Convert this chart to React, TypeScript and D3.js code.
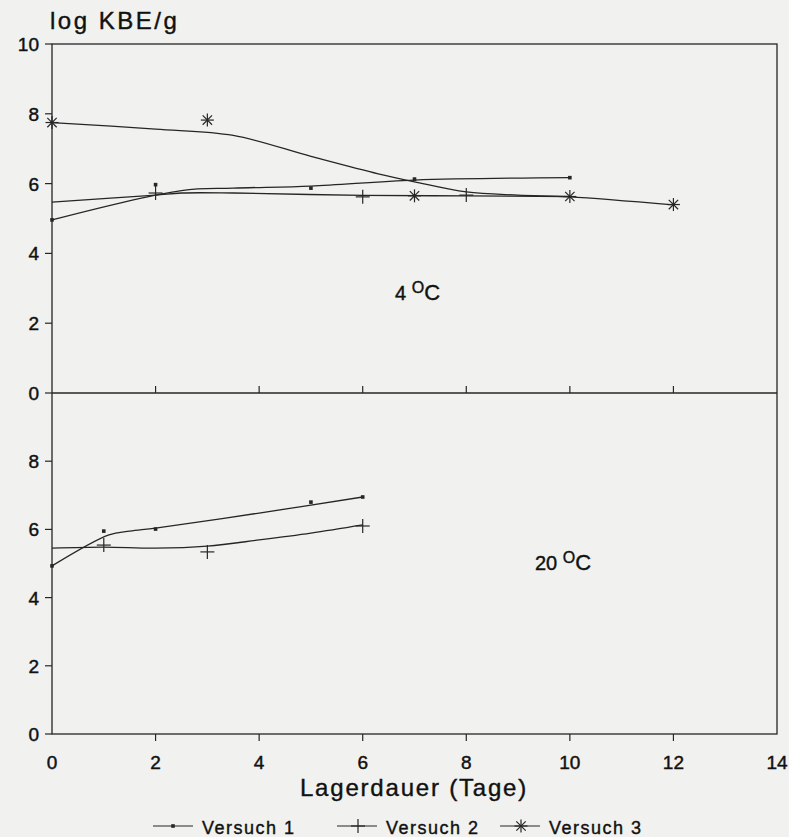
import React from "react";
import * as d3 from "d3";

// ---- data ----
const xTicks = [0, 2, 4, 6, 8, 10, 12, 14];
const yTicksTop = [0, 2, 4, 6, 8, 10];
const yTicksBottom = [0, 2, 4, 6, 8];
const seriesNames = ["Versuch 1", "Versuch 2", "Versuch 3"];

// 4 °C measured points [day, log KBE/g]
const v1Top: [number, number][] = [[0, 4.96], [2, 5.97], [5, 5.87], [7, 6.13], [10, 6.17]];
const v2Top: [number, number][] = [[2, 5.73], [6, 5.62], [8, 5.67]];
const v3Top: [number, number][] = [[0, 7.75], [3, 7.82], [7, 5.65], [10, 5.63], [12, 5.4]];
// 4 °C fitted curves as drawn
const v1TopFit: [number, number][] = [[0, 4.96], [2.5, 5.8], [3.5, 5.87], [5, 5.93], [7, 6.1], [10, 6.17]];
const v2TopFit: [number, number][] = [[0, 5.47], [2, 5.67], [2.5, 5.73], [3.5, 5.73], [6, 5.66], [8, 5.65], [10, 5.63]];
const v3TopFit: [number, number][] = [[0, 7.75], [2, 7.56], [3.5, 7.38], [5, 6.78], [6.3, 6.28], [7, 6.05], [8, 5.76], [9, 5.67], [10, 5.62], [12, 5.39]];

// 20 °C measured points
const v1Bot: [number, number][] = [[0, 4.93], [1, 5.95], [2, 6.01], [5, 6.8], [6, 6.95]];
const v2Bot: [number, number][] = [[1, 5.54], [3, 5.34], [6, 6.1]];
// 20 °C fitted curves
const v1BotFit: [number, number][] = [[0, 4.93], [1.1, 5.84], [1.5, 5.95], [2, 6.04], [4, 6.48], [6, 6.95]];
const v2BotFit: [number, number][] = [[0, 5.45], [1, 5.48], [2, 5.45], [3, 5.51], [4, 5.69], [5, 5.89], [6, 6.13]];

const INK = "#262626";
const TXT = "#111111";
const FONT = "'Liberation Sans', Arial, sans-serif";

function Dot({ x, y }: { x: number; y: number }) {
  return <rect x={x - 1.8} y={y - 1.8} width={3.6} height={3.6} fill={INK} />;
}
function Cross({ x, y }: { x: number; y: number }) {
  const s = 7;
  return (
    <g stroke={INK} strokeWidth={1.2}>
      <line x1={x - s} x2={x + s} y1={y} y2={y} />
      <line x1={x} x2={x} y1={y - s} y2={y + s} />
    </g>
  );
}
function Star({ x, y }: { x: number; y: number }) {
  const s = 6.5;
  const d = s * 0.72;
  return (
    <g stroke={INK} strokeWidth={1.2}>
      <line x1={x - s} x2={x + s} y1={y} y2={y} />
      <line x1={x} x2={x} y1={y - s} y2={y + s} />
      <line x1={x - d} x2={x + d} y1={y - d} y2={y + d} />
      <line x1={x - d} x2={x + d} y1={y + d} y2={y - d} />
    </g>
  );
}

export default function App() {
  const left = 52, right = 777, top = 44, mid = 393, bottom = 734;
  const x = d3.scaleLinear().domain([0, 14]).range([left, right]);
  const yT = d3.scaleLinear().domain([0, 10]).range([mid, top]);
  const yB = d3.scaleLinear().domain([0, 10]).range([bottom, mid]);

  const lineT = d3.line<[number, number]>().x((d) => x(d[0])).y((d) => yT(d[1])).curve(d3.curveCatmullRom.alpha(0.5));
  const lineB = d3.line<[number, number]>().x((d) => x(d[0])).y((d) => yB(d[1])).curve(d3.curveCatmullRom.alpha(0.5));

  const pathStyle = { fill: "none", stroke: INK, strokeWidth: 1.3 };
  const tickFont = { fontFamily: FONT, fontSize: 19, fill: TXT, stroke: TXT, strokeWidth: 0.45 };
  const textStroke = { stroke: TXT, strokeWidth: 0.4 };

  return (
    <svg width={789} height={837} style={{ position: "absolute", left: 0, top: 0, background: "#f1f1ef" }}>
      <rect x={0} y={0} width={789} height={837} fill="#f1f1ef" />
      {/* frame */}
      <g stroke={INK} strokeWidth={1.3} fill="none">
        <rect x={left} y={top} width={right - left} height={bottom - top} />
        <line x1={left} x2={right} y1={mid} y2={mid} />
      </g>
      {/* y ticks top */}
      {yTicksTop.map((t) => (
        <g key={"yt" + t}>
          <line x1={left - 7} x2={left} y1={yT(t)} y2={yT(t)} stroke={INK} strokeWidth={1.2} />
          <text x={39} y={yT(t) + 7} textAnchor="end" {...tickFont}>{t}</text>
        </g>
      ))}
      {yTicksBottom.map((t) => (
        <g key={"yb" + t}>
          <line x1={left - 7} x2={left} y1={yB(t)} y2={yB(t)} stroke={INK} strokeWidth={1.2} />
          <text x={39} y={yB(t) + 7} textAnchor="end" {...tickFont}>{t}</text>
        </g>
      ))}
      {/* x ticks: up on the middle line, down on the bottom axis */}
      {xTicks.filter((t) => t > 0 && t < 14).map((t) => (
        <g key={"xt" + t} stroke={INK} strokeWidth={1.2}>
          <line x1={x(t)} x2={x(t)} y1={mid} y2={mid - 7} />
          <line x1={x(t)} x2={x(t)} y1={bottom} y2={bottom + 7} />
        </g>
      ))}
      {xTicks.map((t) => (
        <text key={"xl" + t} x={x(t)} y={769} textAnchor="middle" {...tickFont}>{t}</text>
      ))}
      {/* titles */}
      <text x={50} y={29} fontFamily={FONT} fontSize={24} letterSpacing={2.5} fill={TXT} {...textStroke}>log KBE/g</text>
      <text x={414} y={796} textAnchor="middle" fontFamily={FONT} fontSize={24} letterSpacing={1.8} fill={TXT} {...textStroke}>Lagerdauer (Tage)</text>
      <text x={395} y={300} fontFamily={FONT} fontSize={20} fill={TXT} {...textStroke}>
        4 <tspan dy={-7} fontSize={16}>O</tspan><tspan dy={7} fontSize={22}>C</tspan>
      </text>
      <text x={535} y={570} fontFamily={FONT} fontSize={20} fill={TXT} {...textStroke}>
        20 <tspan dy={-7} fontSize={16}>O</tspan><tspan dy={7} fontSize={22}>C</tspan>
      </text>

      {/* curves */}
      <path d={lineT(v1TopFit) || ""} style={pathStyle} />
      <path d={lineT(v2TopFit) || ""} style={pathStyle} />
      <path d={lineT(v3TopFit) || ""} style={pathStyle} />
      <path d={lineB(v1BotFit) || ""} style={pathStyle} />
      <path d={lineB(v2BotFit) || ""} style={pathStyle} />

      {/* markers */}
      {v1Top.map((d, i) => <Dot key={"a" + i} x={x(d[0])} y={yT(d[1])} />)}
      {v2Top.map((d, i) => <Cross key={"b" + i} x={x(d[0])} y={yT(d[1])} />)}
      {v3Top.map((d, i) => <Star key={"c" + i} x={x(d[0])} y={yT(d[1])} />)}
      {v1Bot.map((d, i) => <Dot key={"d" + i} x={x(d[0])} y={yB(d[1])} />)}
      {v2Bot.map((d, i) => <Cross key={"e" + i} x={x(d[0])} y={yB(d[1])} />)}

      {/* legend */}
      {seriesNames.map((name, i) => {
        const lx = [153, 337, 500][i];
        const ly = 826;
        return (
          <g key={name}>
            <line x1={lx} x2={lx + 40} y1={ly} y2={ly} stroke={INK} strokeWidth={1.2} />
            {i === 0 && <Dot x={lx + 20} y={ly} />}
            {i === 1 && <Cross x={lx + 21} y={ly} />}
            {i === 2 && <Star x={lx + 21} y={ly} />}
            <text x={lx + 49} y={834} fontFamily={FONT} fontSize={18} letterSpacing={1.5} fill={TXT} {...textStroke}>{name}</text>
          </g>
        );
      })}
    </svg>
  );
}
